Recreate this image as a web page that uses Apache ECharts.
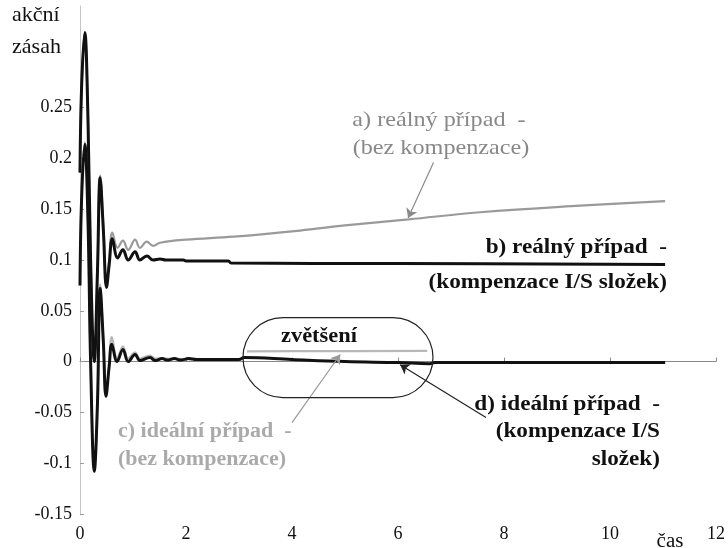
<!DOCTYPE html>
<html><head><meta charset="utf-8">
<script src="https://cdn.jsdelivr.net/npm/echarts@6/dist/echarts.min.js"></script>
<style>html,body{margin:0;padding:0;background:#fff}#c{width:728px;height:548px}</style>
</head><body><div id="c"></div>
<script>
// ---- data ----
const xTickValues = [0, 2, 4, 6, 8, 10, 12];
const xTickLabels = ['0', '2', '4', '6', '8', '10', '12'];
const yTickValues = [-0.15, -0.1, -0.05, 0, 0.05, 0.1, 0.15, 0.2, 0.25];
const yTickLabels = ['-0.15', '-0.1', '-0.05', '0', '0.05', '0.1', '0.15', '0.2', '0.25'];

// a) real case, without compensation (grey)
const tA = [0, 0.03, 0.09, 0.15, 0.2, 0.27, 0.33, 0.38, 0.44, 0.5, 0.55, 0.61, 0.71, 0.81, 0.91, 1.04, 1.13, 1.26, 1.38, 1.51, 2.0, 2.9, 4.15, 5.0, 6.2, 7.55, 9.43, 11.04];
const vA = [0.186, 0.27, 0.324, 0.24, 0.1, 0.0, 0.09, 0.183, 0.135, 0.08, 0.1, 0.127, 0.112, 0.119, 0.11, 0.12, 0.112, 0.118, 0.114, 0.117, 0.12, 0.123, 0.129, 0.134, 0.140, 0.147, 0.1535, 0.158];

// b) real case, I/S compensation (black)
const tB = [0, 0.03, 0.09, 0.15, 0.2, 0.27, 0.33, 0.38, 0.44, 0.5, 0.55, 0.61, 0.71, 0.81, 0.91, 1.04, 1.13, 1.26, 1.38, 1.51, 1.62, 1.95, 2.0, 2.8, 2.85, 6.0, 11.04];
const vB = [0.186, 0.27, 0.324, 0.24, 0.1, 0.0, 0.09, 0.181, 0.13, 0.073, 0.095, 0.121, 0.102, 0.11, 0.1, 0.108, 0.1, 0.104, 0.1, 0.101, 0.1, 0.1, 0.099, 0.099, 0.097, 0.0965, 0.0955];

// c) ideal case, without compensation (grey); null = gap (inset part inside "zvětšení")
const tC = [0, 0.03, 0.09, 0.15, 0.2, 0.27, 0.33, 0.38, 0.44, 0.49, 0.55, 0.6, 0.7, 0.81, 0.91, 1.04, 1.13, 1.32, 1.42, 1.6, 2.45, 3.0, 3.05, 3.15, 4.5, 6.55, 6.6, 6.7, 11.04];
const vC = [0.075, 0.16, 0.216, 0.14, 0.0, -0.106, -0.04, 0.076, 0.022, -0.032, -0.003, 0.024, 0.003, 0.015, 0.003, 0.009, 0.003, 0.006, 0.003, 0.003, 0.002, 0.002, null, 0.010, 0.0103, 0.0105, null, -0.001, -0.001];

// d) ideal case, I/S compensation (black)
const tD = [0, 0.03, 0.09, 0.15, 0.2, 0.27, 0.33, 0.38, 0.44, 0.49, 0.55, 0.6, 0.7, 0.81, 0.91, 1.04, 1.13, 1.32, 1.42, 1.55, 1.65, 1.78, 1.9, 2.05, 2.2, 2.45, 3.0, 3.1, 4.0, 5.0, 6.0, 6.6, 6.7, 11.04];
const vD = [0.075, 0.16, 0.214, 0.14, 0.0, -0.108, -0.04, 0.072, 0.02, -0.034, -0.005, 0.017, 0.0, 0.012, 0.0, 0.007, 0.001, 0.004, 0.001, 0.003, 0.0015, 0.003, 0.0015, 0.003, 0.002, 0.002, 0.002, 0.004, 0.002, 0.0, -0.001, -0.002, -0.001, -0.001];

// annotation anchors in data units
const arrowA = [[6.67, 0.196], [6.19, 0.1414]];
const arrowC = [[4.0, -0.06], [4.91, 0.007]];
const arrowD = [[7.66, -0.055], [6.04, -0.003]];
const zoomBox = [[3.075, 0.0433], [6.66, -0.0354]];

const pairs = (t, v) => t.map((x, i) => [x, v[i] === null ? '-' : v[i]]);
const FONT = '"Liberation Serif", "Times New Roman", serif';

const chart = echarts.init(document.getElementById('c'), null, {renderer: 'canvas'});

const arrowLine = (pts, color) => [
  {coord: pts[0], lineStyle: {color: color, width: 1.2, type: 'solid'}},
  {coord: pts[1]}
];

chart.setOption({
  animation: false,
  backgroundColor: '#fff',
  grid: {left: 80, right: 12, top: 6, bottom: 34, containLabel: false},
  xAxis: {
    type: 'value', min: 0, max: 12, interval: 2,
    axisLine: {show: true, lineStyle: {color: '#888', width: 1}},
    axisTick: {show: true, inside: true, length: 4, lineStyle: {color: '#888'}},
    splitLine: {show: false},
    axisLabel: {
      margin: 11, color: '#111', fontFamily: FONT, fontSize: 18,
      formatter: v => { const i = xTickValues.findIndex(x => Math.abs(x - v) < 1e-9); return i >= 0 ? xTickLabels[i] : ''; }
    }
  },
  yAxis: {
    type: 'value', min: -0.15, max: 0.35, interval: 0.05,
    axisLine: {show: true, lineStyle: {color: '#c4c4c4', width: 1}},
    axisTick: {show: true, inside: true, length: 4, lineStyle: {color: '#999'}, customValues: yTickValues},
    splitLine: {show: false},
    axisLabel: {
      margin: 8, color: '#111', fontFamily: FONT, fontSize: 18,
      customValues: yTickValues,
      formatter: v => { const i = yTickValues.findIndex(y => Math.abs(y - v) < 1e-9); return i >= 0 ? yTickLabels[i] : ''; }
    }
  },
  series: [
    {name: 'a', type: 'line', data: pairs(tA, vA), smooth: 0.4, symbol: 'none',
     lineStyle: {color: '#9a9a9a', width: 2.2}, z: 2,
     markLine: {silent: true, symbol: ['none', 'arrow'], symbolSize: 9, label: {show: false},
       data: [arrowLine(arrowA, '#8a8a8a')]}},
    {name: 'c', type: 'line', data: pairs(tC, vC), smooth: 0.4, symbol: 'none', connectNulls: false,
     lineStyle: {color: '#b8b8b8', width: 2.2}, z: 2,
     markLine: {silent: true, symbol: ['none', 'arrow'], symbolSize: 9, label: {show: false},
       data: [arrowLine(arrowC, '#9a9a9a')]}},
    {name: 'b', type: 'line', data: pairs(tB, vB), smooth: 0.4, symbol: 'none',
     lineStyle: {color: '#111', width: 3}, z: 3},
    {name: 'd', type: 'line', data: pairs(tD, vD), smooth: 0.4, symbol: 'none',
     lineStyle: {color: '#111', width: 3}, z: 3,
     markLine: {silent: true, symbol: ['none', 'arrow'], symbolSize: 9, label: {show: false},
       data: [arrowLine(arrowD, '#222')]}}
  ]
});

// annotations
const p0 = chart.convertToPixel({gridIndex: 0}, zoomBox[0]);
const p1 = chart.convertToPixel({gridIndex: 0}, zoomBox[1]);
const bx = Math.min(p0[0], p1[0]), by = Math.min(p0[1], p1[1]);
const bw = Math.abs(p1[0] - p0[0]), bh = Math.abs(p1[1] - p0[1]);

function txt(text, x, y, align, size, weight, color, sx) {
  return {type: 'text', x: x, y: y, scaleX: sx, z: 50,
    style: {text: text, fontFamily: FONT, fontSize: size, fontWeight: weight, fill: color,
      textAlign: align, textVerticalAlign: 'middle', align: align, verticalAlign: 'middle'}};
}

chart.setOption({
  graphic: [
    {type: 'rect', z: 40, shape: {x: bx, y: by, width: bw, height: bh, r: bh / 2},
     style: {fill: 'none', stroke: '#222', lineWidth: 1.2}},
    txt('zvětšení', bx + bw * 0.4, by + bh * 0.24, 'center', 20, 'bold', '#111', 1.12),
    txt('akční', 12, 15, 'left', 21, 'normal', '#111', 1.05),
    txt('zásah', 12, 47, 'left', 21, 'normal', '#111', 1.05),
    txt('čas', 670, 542, 'center', 20, 'normal', '#111', 1.05),
    txt('a) reálný případ  -', 439, 120, 'center', 22, 'normal', '#888', 1.1),
    txt('(bez kompenzace)', 441, 148, 'center', 22, 'normal', '#888', 1.1),
    txt('b) reálný případ  -', 667, 248, 'right', 20, 'bold', '#111', 1.16),
    txt('(kompenzace I/S složek)', 667, 283, 'right', 20, 'bold', '#111', 1.16),
    txt('c) ideální případ  -', 118, 432, 'left', 20, 'bold', '#aaa', 1.1),
    txt('(bez kompenzace)', 118, 460, 'left', 20, 'bold', '#aaa', 1.1),
    txt('d) ideální případ  -', 660, 405, 'right', 20, 'bold', '#111', 1.16),
    txt('(kompenzace I/S', 660, 432, 'right', 20, 'bold', '#111', 1.16),
    txt('složek)', 660, 460, 'right', 20, 'bold', '#111', 1.16)
  ]
});
</script>
</body></html>
